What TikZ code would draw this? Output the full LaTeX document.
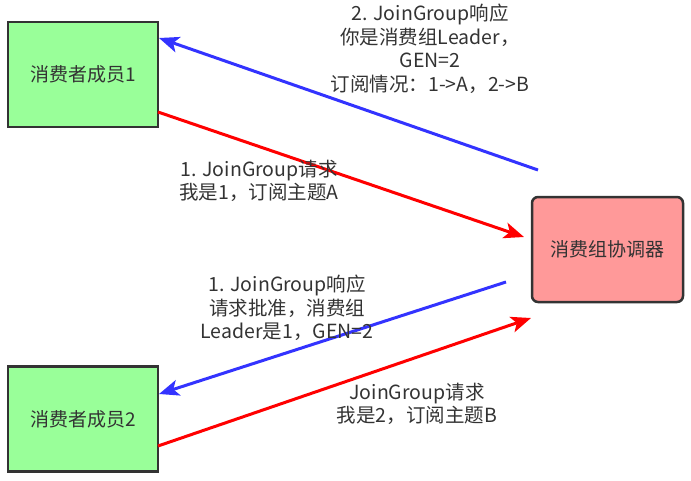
\documentclass[tikz,border=0pt]{standalone}
\usepackage{fontspec}
\setmainfont{Noto Sans CJK SC}
\usetikzlibrary{arrows.meta}
\definecolor{txt}{HTML}{333333}
\definecolor{gfill}{HTML}{99FF99}
\definecolor{rfill}{HTML}{FF9999}
\definecolor{bl}{HTML}{3333FF}
\begin{document}
\begin{tikzpicture}[x=1pt,y=-1pt,
  box/.style={draw=txt,line width=2.5pt,minimum width=150pt,minimum height=105pt,inner sep=0pt,text=txt,font=\fontsize{19}{22}\selectfont},
  lbl/.style={text=txt,align=center,font=\fontsize{19.5}{23.5}\selectfont,inner sep=0pt},
  conn/.style={line width=3pt,-{Stealth[length=20pt,width=16pt,inset=5pt]}}]
\useasboundingbox (0,0) rectangle (691,480);
\node[box,fill=gfill] (m1) at (83,74.5) {消费者成员1};
\node[box,fill=gfill] (m2) at (83,419) {消费者成员2};
\node[box,fill=rfill,rounded corners=6pt,minimum width=151pt] (c) at (607.5,249.5) {消费组协调器};
\coordinate (r1s) at (158,112);
\coordinate (r1e) at (524,237);
\coordinate (b1s) at (538,170);
\coordinate (b1e) at (159,38);
\coordinate (b2s) at (506,282);
\coordinate (b2e) at (159,394);
\coordinate (r2s) at (158,446);
\coordinate (r2e) at (531,318);
\draw[conn,red] (r1s) -- (r1e);
\draw[conn,bl] (b1s) -- (b1e);
\draw[conn,bl] (b2s) -- (b2e);
\draw[conn,red] (r2s) -- (r2e);
\node[lbl] (t1) at (430,49) {2. JoinGroup响应\\你是消费组Leader，\\GEN=2\\订阅情况：1->A，2->B};
\node[lbl] (t2) at (259,181) {1. JoinGroup请求\\我是1，订阅主题A};
\node[lbl] (t3) at (287,308) {1. JoinGroup响应\\请求批准，消费组\\Leader是1，GEN=2};
\node[lbl] (t4) at (417,404) {JoinGroup请求\\我是2，订阅主题B};
\end{tikzpicture}
\end{document}
